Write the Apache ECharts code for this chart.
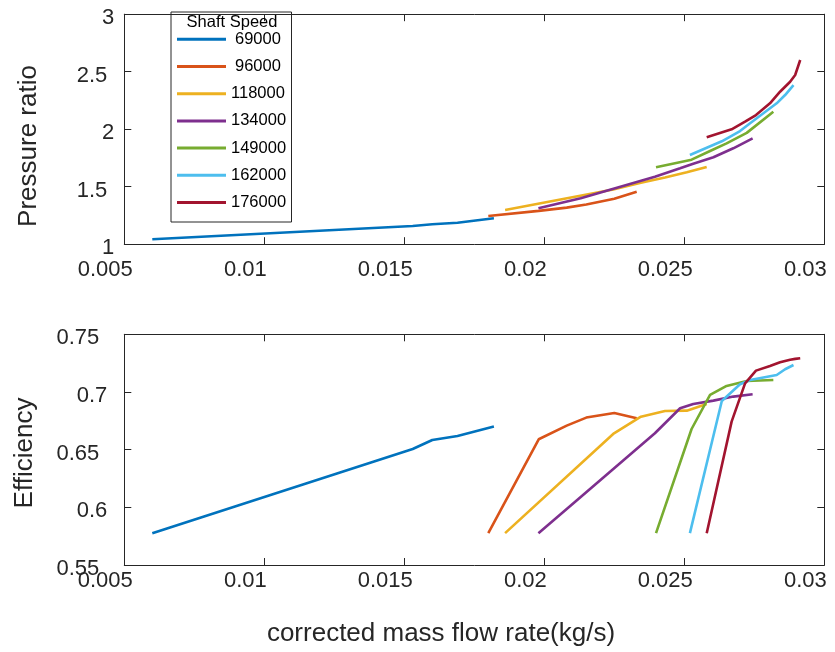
<!DOCTYPE html>
<html>
<head>
<meta charset="utf-8">
<script src="https://cdn.jsdelivr.net/npm/echarts@6/dist/echarts.min.js"></script>
<style>
  html, body { margin: 0; padding: 0; background: #fff; }
  #chart { width: 835px; height: 652px; }
</style>
</head>
<body>
<div id="chart"></div>
<script>
// Shaft speeds (rpm) shown in the legend
const speeds = ['69000', '96000', '118000', '134000', '149000', '162000', '176000'];
const colors = ['#0072BD', '#D95319', '#EDB120', '#7E2F8E', '#77AC30', '#4DBEEE', '#A2142F'];

// corrected mass flow rate (kg/s), pressure ratio and efficiency per speed line
const flow69000 = [0.0060, 0.0153, 0.0160, 0.0169, 0.0182];
const pr69000   = [1.043, 1.158, 1.173, 1.187, 1.225];
const eff69000  = [0.5776, 0.6506, 0.6584, 0.6619, 0.670];

const flow96000 = [0.0180, 0.0198, 0.0208, 0.0215, 0.0225, 0.0233];
const pr96000   = [1.245, 1.290, 1.318, 1.345, 1.395, 1.457];
const eff96000  = [0.5776, 0.659, 0.6708, 0.6778, 0.6818, 0.6772];

const flow118000 = [0.0186, 0.02246, 0.02345, 0.02431, 0.02509, 0.0258];
const pr118000   = [1.297, 1.475, 1.535, 1.580, 1.625, 1.672];
const eff118000  = [0.5776, 0.6636, 0.6786, 0.6835, 0.6838, 0.6895];

const flow134000 = [0.01979, 0.0213, 0.02395, 0.02485, 0.02532, 0.02604, 0.02675, 0.02744];
const pr134000   = [1.312, 1.400, 1.587, 1.660, 1.700, 1.756, 1.834, 1.921];
const eff134000  = [0.5776, 0.609, 0.6642, 0.6859, 0.6896, 0.6925, 0.696, 0.698];

const flow149000 = [0.02399, 0.02526, 0.02592, 0.02651, 0.02723, 0.02818];
const pr149000   = [1.669, 1.735, 1.810, 1.877, 1.968, 2.152];
const eff149000  = [0.5776, 0.6679, 0.6974, 0.7052, 0.7095, 0.7104];

const flow162000 = [0.0252, 0.02634, 0.02699, 0.02735, 0.0283, 0.0286, 0.0289];
const pr162000   = [1.776, 1.895, 1.984, 2.051, 2.225, 2.297, 2.384];
const eff162000  = [0.5776, 0.6922, 0.7067, 0.7104, 0.7147, 0.7197, 0.7234];

const flow176000 = [0.0258, 0.02669, 0.02717, 0.02756, 0.02806, 0.02842, 0.02878, 0.02896, 0.02914];
const pr176000   = [1.930, 1.999, 2.065, 2.123, 2.225, 2.326, 2.413, 2.471, 2.602];
const eff176000  = [0.5776, 0.6743, 0.7075, 0.7185, 0.7225, 0.7257, 0.728, 0.7287, 0.7292];

// axis ranges / tick steps
const flowTicks = { min: 0.005, max: 0.03, interval: 0.005 };
const prTicks   = { min: 1, max: 3, interval: 0.5 };
const effTicks  = { min: 0.55, max: 0.75, interval: 0.05 };

const flows = [flow69000, flow96000, flow118000, flow134000, flow149000, flow162000, flow176000];
const prs   = [pr69000, pr96000, pr118000, pr134000, pr149000, pr162000, pr176000];
const effs  = [eff69000, eff96000, eff118000, eff134000, eff149000, eff162000, eff176000];

const FONT = "'Liberation Sans', Arial, Helvetica, sans-serif";
const INK = '#262626';

function zip(xs, ys) { return xs.map((x, i) => [x, ys[i]]); }

function yLabelFmt(digits) {
  return v => {
    const s = String(+v.toFixed(digits));
    const key = s.length <= 1 ? 'a' : (s.length <= 3 ? 'b' : 'c');
    return '{' + key + '|' + s + '}';
  };
}
const yRich = {
  a: { fontSize: 22, fontFamily: FONT, color: INK, padding: [0, 0, 0, 0] },
  b: { fontSize: 22, fontFamily: FONT, color: INK, padding: [0, 7, 0, 0] },
  c: { fontSize: 22, fontFamily: FONT, color: INK, padding: [0, 15, 0, 0] }
};

function xAxes(grid, labelMargin) {
  const base = {
    type: 'value', gridIndex: grid,
    min: flowTicks.min, max: flowTicks.max, interval: flowTicks.interval,
    axisLine: { show: true, onZero: false, lineStyle: { color: INK, width: 1 } },
    axisTick: { show: true, inside: true, length: 7, lineStyle: { color: INK, width: 1 } },
    splitLine: { show: false }
  };
  return [
    Object.assign({}, base, {
      position: 'bottom',
      axisLabel: {
        show: true, margin: labelMargin, fontSize: 22, fontFamily: FONT, color: INK,
        padding: [0, 38, 0, 0], showMinLabel: true, showMaxLabel: true,
        formatter: v => String(+v.toFixed(3))
      }
    }),
    Object.assign({}, base, { position: 'top', axisLabel: { show: false } })
  ];
}

function yAxes(grid, ticks, digits) {
  const base = {
    type: 'value', gridIndex: grid,
    min: ticks.min, max: ticks.max, interval: ticks.interval,
    axisLine: { show: true, onZero: false, lineStyle: { color: INK, width: 1 } },
    axisTick: { show: true, inside: true, length: 7, lineStyle: { color: INK, width: 1 } },
    splitLine: { show: false }
  };
  return [
    Object.assign({}, base, {
      position: 'left',
      axisLabel: {
        show: true, margin: 10, padding: [8, 0, 0, 0],
        showMinLabel: true, showMaxLabel: true,
        formatter: yLabelFmt(digits), rich: yRich
      }
    }),
    Object.assign({}, base, { position: 'right', axisLabel: { show: false } })
  ];
}

const series = [];
speeds.forEach((name, i) => {
  series.push({
    name: name, type: 'line', xAxisIndex: 0, yAxisIndex: 0,
    data: zip(flows[i], prs[i]), showSymbol: false, symbol: 'none',
    lineStyle: { width: 2.6, color: colors[i] }, itemStyle: { color: colors[i] },
    z: 3 + i
  });
  series.push({
    name: name, type: 'line', xAxisIndex: 2, yAxisIndex: 2,
    data: zip(flows[i], effs[i]), showSymbol: false, symbol: 'none',
    lineStyle: { width: 2.6, color: colors[i] }, itemStyle: { color: colors[i] },
    z: 3 + i
  });
});

const chart = echarts.init(document.getElementById('chart'), null, { renderer: 'canvas' });
chart.setOption({
  animation: false,
  backgroundColor: '#ffffff',
  textStyle: { fontFamily: FONT },
  grid: [
    { left: 124.3, top: 14.2, width: 700, height: 230 },
    { left: 124.3, top: 334.3, width: 700, height: 230.7 }
  ],
  xAxis: xAxes(0, 15).concat(xAxes(1, 5)),
  yAxis: yAxes(0, prTicks, 1).concat(yAxes(1, effTicks, 2)),
  legend: {
    orient: 'vertical', left: 177, top: 30.8, padding: 0,
    itemWidth: 49, itemHeight: 3, itemGap: 10.2, icon: 'rect',
    selectedMode: false,
    data: speeds,
    formatter: n => (n.length < 6 ? '{s|' + n + '}' : '{w|' + n + '}'),
    textStyle: {
      fontSize: 16.5, lineHeight: 17, color: '#000', fontFamily: FONT,
      rich: {
        s: { fontSize: 16.5, fontFamily: FONT, color: '#000', padding: [0, 0, 0, 4] },
        w: { fontSize: 16.5, fontFamily: FONT, color: '#000' }
      }
    }
  },
  graphic: [
    {
      type: 'rect', left: 168.5, top: 9.5, silent: true, z: 50,
      shape: { width: 120.5, height: 210 },
      style: { fill: 'none', stroke: INK, lineWidth: 1 }
    },
    {
      type: 'text', x: 232, y: 22.5, z: 51,
      style: { text: 'Shaft Speed', fontSize: 16.5, fontFamily: FONT, fill: '#000',
               textAlign: 'center', textVerticalAlign: 'middle' }
    },
    {
      type: 'text', x: 29, y: 146, rotation: Math.PI / 2, z: 51,
      style: { text: 'Pressure ratio', fontSize: 26, fontFamily: FONT, fill: INK,
               textAlign: 'center', textVerticalAlign: 'middle' }
    },
    {
      type: 'text', x: 25, y: 453, rotation: Math.PI / 2, z: 51,
      style: { text: 'Efficiency', fontSize: 26, fontFamily: FONT, fill: INK,
               textAlign: 'center', textVerticalAlign: 'middle' }
    },
    {
      type: 'text', x: 441, y: 634, z: 51,
      style: { text: 'corrected mass flow rate(kg/s)', fontSize: 26, fontFamily: FONT, fill: INK,
               textAlign: 'center', textVerticalAlign: 'middle' }
    }
  ],
  series: series
});
</script>
</body>
</html>
